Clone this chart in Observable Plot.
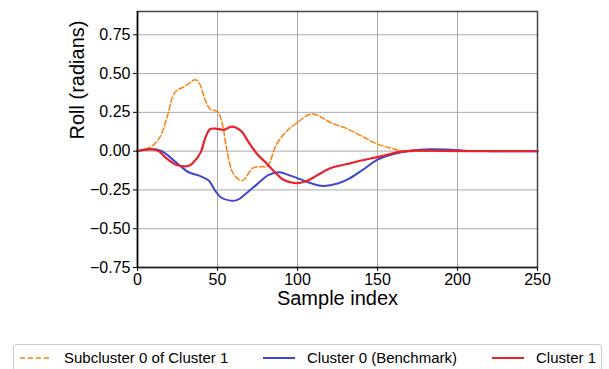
<!DOCTYPE html>
<html>
<head>
<meta charset="utf-8">
<script src="https://cdn.jsdelivr.net/npm/d3@7"></script>
<script src="https://cdn.jsdelivr.net/npm/@observablehq/plot@0.6"></script>
<style>
  html, body { margin: 0; padding: 0; background: #fff; width: 609px; height: 369px; overflow: hidden; }
  body { font-family: "Liberation Sans", Arial, sans-serif; }
  #chart svg { display: block; }
  #legend { position: absolute; left: 13px; top: 344px; width: 589px; height: 34px; border: 1px solid #cccccc; border-radius: 3px; box-sizing: border-box; background: #fff; }
  .item { position: absolute; top: 4px; font-size: 15px; color: #000; white-space: nowrap; line-height: 17px; }
  .item svg { position: absolute; top: 0; }
</style>
</head>
<body>
<div id="chart"></div>
<div id="legend"></div>
<script>
// Series labels
const seriesNames = ["Subcluster 0 of Cluster 1", "Cluster 0 (Benchmark)", "Cluster 1"];
const seriesColors = ["#ff7f0e", "#3f48cc", "#e8212b"];

// Subcluster 0 of Cluster 1 (orange dashed)
const subIdx = [0, 8, 14, 18.5, 23.5, 30, 36, 38.5, 42.5, 45.5, 50, 53, 56, 60, 65.5, 72, 77, 81, 87, 93.5, 100, 106, 110, 115, 121.5, 129, 139.5, 149, 158, 166.5, 180, 200, 250];
const subVal = [0, 0.025, 0.09, 0.22, 0.38, 0.42, 0.46, 0.44, 0.325, 0.27, 0.255, 0.175, 0, -0.147, -0.19, -0.11, -0.1, -0.098, 0.046, 0.132, 0.185, 0.23, 0.24, 0.218, 0.18, 0.153, 0.1, 0.05, 0.02, 0, 0, 0, 0];

// Cluster 0 (Benchmark) (blue)
const benchIdx = [0, 8, 14.5, 20.5, 27, 32, 38.5, 44.5, 48.5, 52, 58, 62.5, 67.5, 75, 82, 88.5, 95.5, 104, 112, 116.5, 125, 132, 141.5, 150, 160, 170.5, 183, 193.5, 204, 220, 250];
const benchVal = [0, 0.012, 0.003, -0.04, -0.098, -0.136, -0.158, -0.19, -0.254, -0.297, -0.319, -0.314, -0.276, -0.211, -0.153, -0.136, -0.158, -0.19, -0.218, -0.224, -0.209, -0.179, -0.115, -0.055, -0.018, 0.003, 0.012, 0.01, 0.003, 0, 0];

// Cluster 1 (red)
const c1Idx = [0, 8, 13, 18.5, 24.5, 32, 35, 39.5, 42.5, 45.5, 50, 54, 59, 64.5, 69.5, 75, 80, 85, 91.5, 99, 105, 112, 120.5, 131, 141.5, 152, 162, 172.5, 190, 220, 250];
const c1Val = [0, 0.013, 0.003, -0.05, -0.089, -0.094, -0.072, -0.008, 0.089, 0.143, 0.143, 0.138, 0.158, 0.132, 0.057, -0.022, -0.072, -0.126, -0.186, -0.207, -0.196, -0.158, -0.11, -0.083, -0.057, -0.034, -0.008, 0.003, 0.002, 0, 0];

// Tick values
const xTicks = [0, 50, 100, 150, 200, 250];
const yTicks = [-0.75, -0.5, -0.25, 0, 0.25, 0.5, 0.75];

const toRows = (xs, ys) => xs.map((x, i) => ({x, y: ys[i]}));
const sub = toRows(subIdx, subVal);
const bench = toRows(benchIdx, benchVal);
const c1 = toRows(c1Idx, c1Val);

const fmt = d => d.toFixed(2).replace("-", "\u2212");

const chart = Plot.plot({
  width: 609,
  height: 338,
  marginLeft: 137,
  marginRight: 72,
  marginTop: 11,
  marginBottom: 71,
  style: {fontFamily: "'Liberation Sans', Arial, sans-serif", background: "#fff", color: "#000"},
  x: {domain: [0, 250]},
  y: {domain: [-0.75, 0.9]},
  marks: [
    Plot.gridX(xTicks, {stroke: "#aaaaaa", strokeOpacity: 1, strokeWidth: 1}),
    Plot.gridY(yTicks, {stroke: "#aaaaaa", strokeOpacity: 1, strokeWidth: 1}),
    Plot.line(sub, {x: "x", y: "y", stroke: seriesColors[0], strokeWidth: 1.5, strokeDasharray: "5.5,2.5", curve: "catmull-rom"}),
    Plot.line(bench, {x: "x", y: "y", stroke: seriesColors[1], strokeWidth: 2, curve: "catmull-rom"}),
    Plot.line(c1, {x: "x", y: "y", stroke: seriesColors[2], strokeWidth: 2.2, curve: "catmull-rom"}),
    Plot.frame({stroke: "#444", strokeWidth: 1.5}),
    Plot.ruleX([0], {stroke: "#000", strokeWidth: 1.5}),
    Plot.ruleY([-0.75], {stroke: "#222", strokeWidth: 1.5}),
    Plot.axisX(xTicks, {tickSize: 4, tickPadding: 2, fontSize: 16, label: null, stroke: "#000"}),
    Plot.axisY(yTicks, {tickSize: 4, tickPadding: 3, fontSize: 16, label: null, tickFormat: fmt, stroke: "#000"}),
    Plot.text(["Sample index"], {frameAnchor: "bottom", dy: 31, lineAnchor: "middle", fontSize: 20, fill: "#000"}),
    Plot.text(["Roll (radians)"], {frameAnchor: "left", dx: -60, rotate: -90, lineAnchor: "middle", fontSize: 20, fill: "#000"})
  ]
});
document.getElementById("chart").append(chart);

// Legend
const legend = document.getElementById("legend");
const items = [
  {left: 6, textLeft: 50, dash: "5,3", w: 1.5},
  {left: 249, textLeft: 293, dash: null, w: 2},
  {left: 478, textLeft: 522, dash: null, w: 2}
];
items.forEach((it, i) => {
  const div = document.createElement("div");
  div.className = "item";
  div.style.left = it.left + "px";
  const sw = `<svg width="32" height="17" style="left:0"><line x1="0" x2="32" y1="9" y2="9" stroke="${seriesColors[i]}" stroke-width="${it.w}" ${it.dash ? `stroke-dasharray="${it.dash}"` : ""}/></svg>`;
  div.innerHTML = sw + `<span style="position:absolute;left:${it.textLeft - it.left}px">${seriesNames[i]}</span>`;
  legend.append(div);
});
</script>
</body>
</html>
